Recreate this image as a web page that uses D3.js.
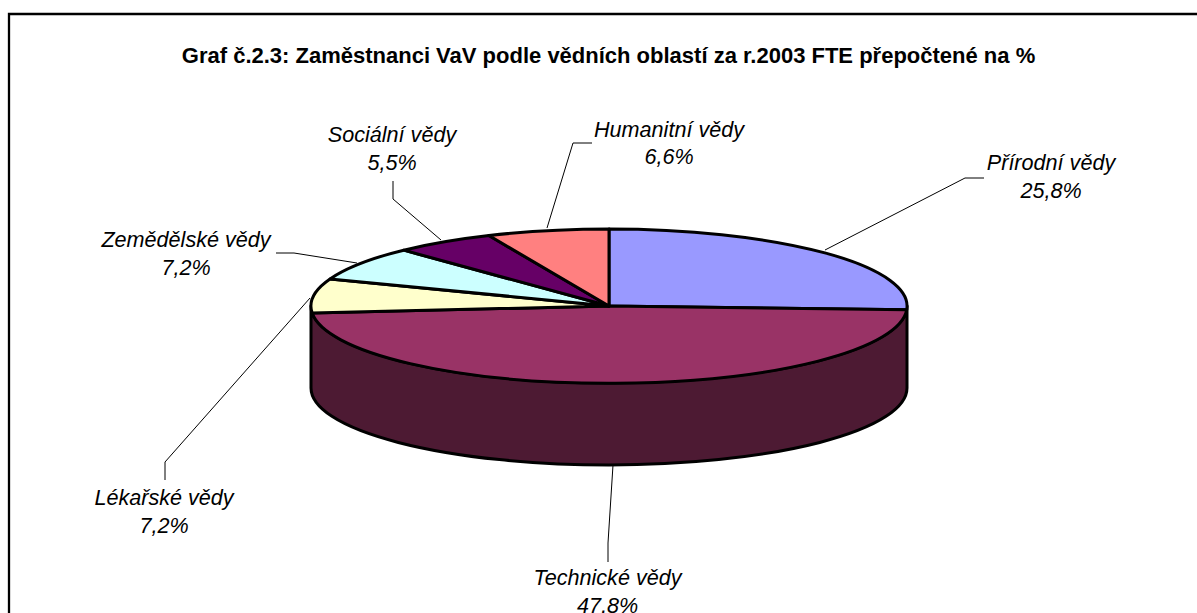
<!DOCTYPE html>
<html lang="cs"><head><meta charset="utf-8">
<script src="https://cdnjs.cloudflare.com/ajax/libs/d3/7.8.5/d3.min.js"></script>
<style>html,body{margin:0;padding:0;background:#fff;overflow:hidden}text{font-family:"Liberation Sans",Arial,sans-serif}</style>
</head><body><svg id="c" width="1197" height="613"></svg>
<script>
const titleText = "Graf č.2.3: Zaměstnanci VaV podle vědních oblastí za r.2003 FTE přepočtené na %";
const categories = ["Přírodní vědy","Technické vědy","Lékařské vědy","Zemědělské vědy","Sociální vědy","Humanitní vědy"];
const values = [25.8,47.8,7.2,7.2,5.5,6.6];
const valueLabels = ["25,8%","47,8%","7,2%","7,2%","5,5%","6,6%"];
const colors = ["#9999FF","#993366","#FFFFCC","#CCFFFF","#660066","#FF8080"];
const wallColor = "#4D1A33";
const labelAnchors = [[1051,170],[607.5,585],[164,505],[186,247],[392,142],[669,136.5]];
const leaders = [
 [[825,250],[965,178],[984,178]],
 [[613,465],[608,543],[608,562]],
 [[310,298],[165,462],[165,480]],
 [[357,263],[294,253],[276,253]],
 [[441,240],[393,199],[393,181]],
 [[547,228],[573,143],[592,143]]
];
const cx=609, cy=306, rx=298, ry=77, depth=82;
const svg=d3.select("#c");
svg.append("path").attr("d","M9,660V14H1210").attr("fill","none").attr("stroke","#000").attr("stroke-width",2.3);
svg.append("text").attr("x",608.5).attr("y",63).attr("text-anchor","middle").attr("font-size",22).attr("font-weight","bold").text(titleText);
const scaleX=d3.scaleLinear().domain([-1,1]).range([cx-rx,cx+rx]);
const scaleY=d3.scaleLinear().domain([-1,1]).range([cy-ry,cy+ry]);
const arcs=d3.pie().sort(null).value(d=>d)(values);
const wallD=`M${scaleX(1)},${scaleY(0)}L${scaleX(1)},${scaleY(0)+depth}A${rx},${ry} 0 0 1 ${scaleX(-1)},${scaleY(0)+depth}L${scaleX(-1)},${scaleY(0)}A${rx},${ry} 0 0 0 ${scaleX(1)},${scaleY(0)}Z`;
svg.append("path").attr("d",wallD).attr("fill",wallColor).attr("stroke","#000").attr("stroke-width",3).attr("stroke-linejoin","round");
const arc=d3.arc().innerRadius(0).outerRadius(1);
svg.append("g").attr("transform",`translate(${cx},${cy}) scale(${rx},${ry})`)
 .selectAll("path").data(arcs).join("path").attr("d",arc).attr("fill",(d,i)=>colors[i])
 .attr("stroke","#000").attr("stroke-width",3).attr("stroke-linejoin","round").attr("vector-effect","non-scaling-stroke");
const line=d3.line();
svg.append("g").selectAll("path").data(leaders).join("path").attr("d",line).attr("fill","none").attr("stroke","#000").attr("stroke-width",1);
const lab=svg.append("g").selectAll("text").data(categories).join("text").attr("text-anchor","middle").attr("font-style","italic").attr("font-size",21.6).attr("fill","#000");
lab.append("tspan").attr("x",(d,i)=>labelAnchors[i][0]).attr("y",(d,i)=>labelAnchors[i][1]).text(d=>d);
lab.append("tspan").attr("x",(d,i)=>labelAnchors[i][0]).attr("y",(d,i)=>labelAnchors[i][1]+27.5).text((d,i)=>valueLabels[i]);
</script></body></html>
